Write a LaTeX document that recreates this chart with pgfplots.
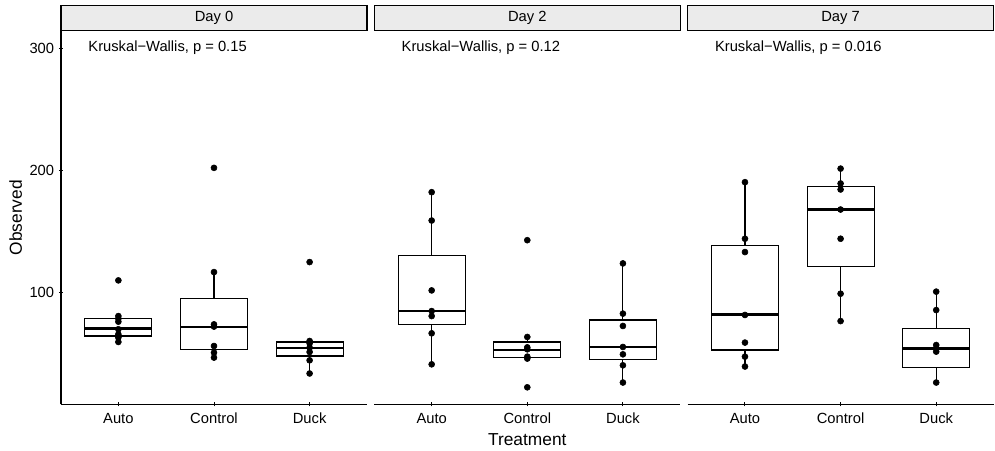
\documentclass[border=0pt]{standalone}
\usepackage{pgfplots}
\pgfplotsset{compat=1.18}
\usepackage{fontspec}
\setmainfont{Liberation Sans}
\definecolor{stripgray}{RGB}{235,235,235}

% #1 center, #2 left, #3 right, #4 lower whisker, #5 q1, #6 median, #7 q3, #8 upper whisker
\newcommand{\bx}[8]{%
\addplot[black, line width=0.8pt] coordinates {(#1,#4)(#1,#5)};
\addplot[black, line width=0.8pt] coordinates {(#1,#7)(#1,#8)};
\addplot[draw=black, fill=white, line width=0.8pt] coordinates {(#2,#5)(#3,#5)(#3,#7)(#2,#7)} -- cycle;
\addplot[black, line width=1.8pt] coordinates {(#2,#6)(#3,#6)};}

\pgfplotsset{
  panel/.style={
    scale only axis,
    width=224.3pt, height=273.6pt,
    anchor=south west,
    xmin=0.4, xmax=3.6, ymin=8.4, ymax=313.9,
    xtick={1,2,3}, xticklabels={Auto,Control,Duck},
    ytick={100,200,300},
    tick align=outside,
    major tick length=3pt,
    tick style={black, line width=0.7pt},
    tick label style={font=\fontsize{10.8}{12}\selectfont, text=black},
    /pgf/number format/assume math mode=true,
    x tick label style={yshift=-1.5pt},
    clip=false,
    axis x line=bottom, axis y line=left,
    axis line style={black, line width=0.8pt, -},
    every outer x axis line/.append style={-},
    every outer y axis line/.append style={-},
  },
  noy/.style={ytick=\empty, y axis line style={draw=none}},
  pts/.style={only marks, mark=*, mark size=2.2pt, black, mark options={solid, fill=black}},
}
\tikzset{kw/.style={anchor=west, inner sep=0pt, font=\fontsize{10.8}{12}\selectfont}}

\begin{document}
\begin{tikzpicture}
\path[use as bounding box] (0pt,0pt) rectangle (729.34pt,330.58pt);

% Day 0
\begin{axis}[panel, at={(44.71pt,34.23pt)}]
\bx{1}{0.65}{1.35}{59.4}{64.3}{70.6}{78.5}{80.6}
\bx{2}{1.65}{2.35}{46.6}{53.4}{71.8}{95.1}{116.6}
\bx{3}{2.65}{3.35}{33.6}{47.9}{54.4}{59.4}{60.2}
\addplot[pts] coordinates {(1,109.8)(1,80.6)(1,78.5)(1,76.0)(1,69.8)(1,65.7)(1,63.0)(1,59.4)};
\addplot[pts] coordinates {(2,201.9)(2,116.6)(2,73.8)(2,72.0)(2,56.1)(2,50.7)(2,46.6)};
\addplot[pts] coordinates {(3,124.8)(3,60.2)(3,58.3)(3,54.8)(3,51.2)(3,44.4)(3,33.6)};
\node[kw] at (axis cs:0.684,300) {Kruskal−Wallis, p = 0.15};
\end{axis}

% Day 2
\begin{axis}[panel, noy, at={(274.36pt,34.23pt)}]
\bx{1}{0.65}{1.35}{41.1}{73.6}{84.6}{130.2}{182.0}
\bx{2}{1.65}{2.35}{45.8}{46.4}{52.8}{59.4}{63.5}
\bx{3}{2.65}{3.35}{26.2}{44.7}{55.3}{77.4}{123.7}
\addplot[pts] coordinates {(1,182.0)(1,158.8)(1,101.6)(1,84.7)(1,80.6)(1,66.5)(1,41.1)};
\addplot[pts] coordinates {(2,142.7)(2,63.5)(2,55.0)(2,53.4)(2,47.4)(2,45.8)(2,22.3)};
\addplot[pts] coordinates {(3,123.7)(3,82.6)(3,72.5)(3,55.3)(3,49.3)(3,40.3)(3,26.2)};
\node[kw] at (axis cs:0.684,300) {Kruskal−Wallis, p = 0.12};
\end{axis}

% Day 7
\begin{axis}[panel, noy, at={(504.01pt,34.23pt)}]
\bx{1}{0.65}{1.35}{39.3}{52.8}{81.7}{138.4}{190.2}
\bx{2}{1.65}{2.35}{76.5}{121.5}{167.8}{186.5}{201.3}
\bx{3}{2.65}{3.35}{26.2}{38.7}{54.2}{70.6}{100.6}
\addplot[pts] coordinates {(1,190.2)(1,143.9)(1,133.0)(1,81.5)(1,58.9)(1,47.4)(1,39.3)};
\addplot[pts] coordinates {(2,201.3)(2,189.1)(2,184.2)(2,167.8)(2,143.9)(2,98.9)(2,76.5)};
\addplot[pts] coordinates {(3,100.6)(3,85.5)(3,56.9)(3,54.2)(3,51.5)(3,26.2)};
\node[kw] at (axis cs:0.684,300) {Kruskal−Wallis, p = 0.016};
\end{axis}

\begin{scope}[x=0.733pt, y=0.733pt]
% strips
\foreach \l/\t in {61/Day 0, 374.3/Day 2, 687.6/Day 7}{
  \draw[fill=stripgray, line width=0.8pt] (\l,420.3) rectangle (\l+306,445.3);
  \node[font=\fontsize{10.8}{12}\selectfont, inner sep=0pt] at (\l+153,432.8) {\t};
}
% axis titles
\node[rotate=90, font=\fontsize{12.7}{14}\selectfont, inner sep=0pt] at (15.8,233.3) {Observed};
\node[font=\fontsize{12.7}{14}\selectfont, inner sep=0pt] at (527.3,11.5) {Treatment};
\end{scope}
\end{tikzpicture}
\end{document}
